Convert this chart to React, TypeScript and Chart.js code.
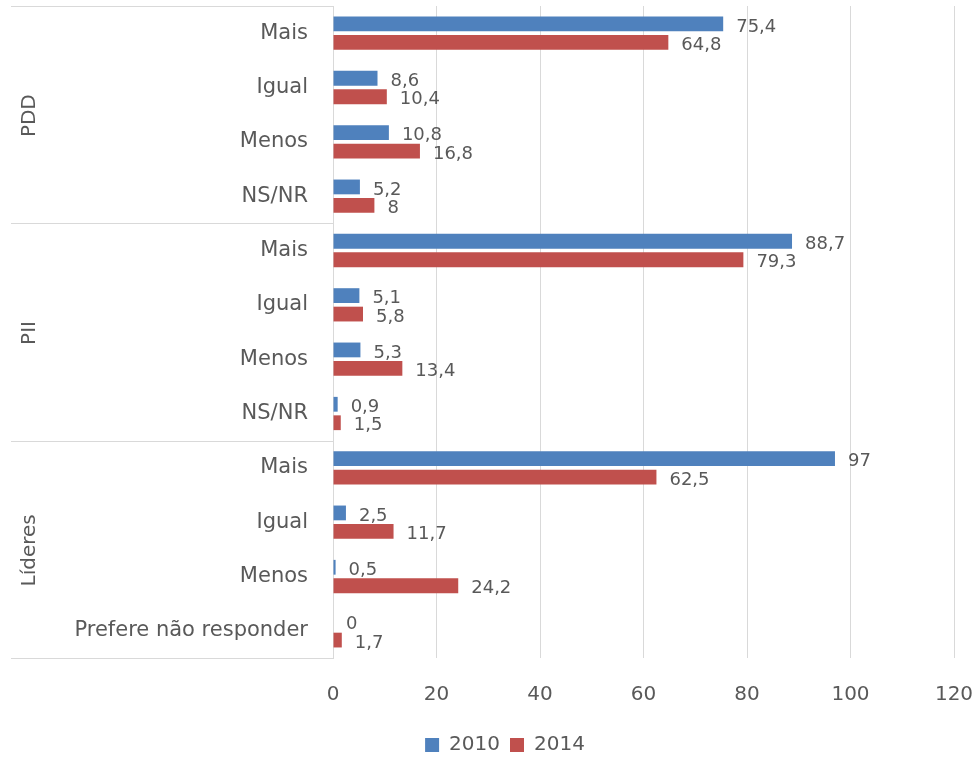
import React, { useEffect, useRef } from "react";
import { Chart, registerables } from "chart.js";

Chart.register(...registerables);

// ---- data ----
const categories = [
  "Mais", "Igual", "Menos", "NS/NR",
  "Mais", "Igual", "Menos", "NS/NR",
  "Mais", "Igual", "Menos", "Prefere não responder",
];
const groups = ["PDD", "PII", "Líderes"];
const groupSize = 4;
const seriesNames = ["2010", "2014"];
const values2010 = [75.4, 8.6, 10.8, 5.2, 88.7, 5.1, 5.3, 0.9, 97, 2.5, 0.5, 0];
const values2014 = [64.8, 10.4, 16.8, 8, 79.3, 5.8, 13.4, 1.5, 62.5, 11.7, 24.2, 1.7];
const xMin = 0;
const xMax = 120;
const xStep = 20;

const BLUE = "#4F81BD";
const RED = "#C0504D";
const TEXT = "#595959";
const GRID = "#D9D9D9";
const FONT = "'DejaVu Sans', sans-serif";

const fmt = (v: number) => String(v).replace(".", ",");

const zeroPad = (s: any) => {
  s.paddingTop = 0;
  s.paddingBottom = 0;
  s.paddingLeft = 0;
  s.paddingRight = 0;
};

const groupPlugin = {
  id: "groupPlugin",
  afterDraw(chart: any) {
    const ctx = chart.ctx;
    const y = chart.scales.y;
    const area = chart.chartArea;
    const half = (y.getPixelForValue(1) - y.getPixelForValue(0)) / 2;
    ctx.save();
    ctx.strokeStyle = GRID;
    ctx.lineWidth = 1;
    for (let g = 0; g <= groups.length; g++) {
      let py: number;
      if (g === 0) py = area.top;
      else if (g === groups.length) py = area.bottom;
      else py = y.getPixelForValue(g * groupSize) - half;
      py = Math.round(py) + 0.5;
      ctx.beginPath();
      ctx.moveTo(11, py);
      ctx.lineTo(area.left, py);
      ctx.stroke();
    }
    ctx.fillStyle = TEXT;
    ctx.font = `20px ${FONT}`;
    ctx.textAlign = "center";
    ctx.textBaseline = "middle";
    groups.forEach((name, g) => {
      const top = y.getPixelForValue(g * groupSize) - half;
      const bottom = y.getPixelForValue(g * groupSize + groupSize - 1) + half;
      ctx.save();
      ctx.translate(30, (top + bottom) / 2 + 1);
      ctx.rotate(-Math.PI / 2);
      ctx.fillText(name, 0, 0);
      ctx.restore();
    });
    ctx.restore();
  },
};

const labelPlugin = {
  id: "labelPlugin",
  afterDatasetsDraw(chart: any) {
    const ctx = chart.ctx;
    ctx.save();
    ctx.fillStyle = TEXT;
    ctx.font = `18px ${FONT}`;
    ctx.textAlign = "left";
    ctx.textBaseline = "middle";
    chart.data.datasets.forEach((ds: any, di: number) => {
      const meta = chart.getDatasetMeta(di);
      meta.data.forEach((bar: any, i: number) => {
        ctx.fillText(fmt(ds.data[i]), bar.x + 13, bar.y + 3);
      });
    });
    ctx.restore();
  },
};

export default function App() {
  const ref = useRef<HTMLCanvasElement | null>(null);

  useEffect(() => {
    document.body.style.margin = "0";
    document.body.style.background = "#ffffff";
    if (!ref.current) return;
    const chart = new Chart(ref.current, {
      type: "bar",
      data: {
        labels: categories,
        datasets: [
          {
            label: seriesNames[0],
            data: values2010,
            backgroundColor: BLUE,
            borderWidth: 0,
            categoryPercentage: 0.68,
            barPercentage: 0.8,
          },
          {
            label: seriesNames[1],
            data: values2014,
            backgroundColor: RED,
            borderWidth: 0,
            categoryPercentage: 0.68,
            barPercentage: 0.8,
          },
        ],
      },
      options: {
        indexAxis: "y",
        responsive: false,
        animation: false,
        layout: { padding: { top: 6, right: 23, left: 56, bottom: -5 } },
        scales: {
          x: {
            min: xMin,
            max: xMax,
            ticks: {
              stepSize: xStep,
              color: TEXT,
              font: { family: FONT, size: 20 },
              padding: 25,
            },
            grid: { color: GRID, drawTicks: false, lineWidth: 1 },
            border: { display: false },
            afterFit: (s: any) => {
              s.height = 67;
              zeroPad(s);
            },
          },
          y: {
            ticks: {
              color: TEXT,
              font: { family: FONT, size: 21 },
              padding: 25,
              autoSkip: false,
            },
            grid: { display: false, drawTicks: false },
            border: { display: true, color: GRID, width: 1 },
            afterFit: (s: any) => {
              s.width = 277;
              zeroPad(s);
            },
          },
        },
        plugins: {
          legend: {
            position: "bottom",
            labels: {
              color: TEXT,
              font: { family: FONT, size: 20 },
              boxWidth: 14,
              boxHeight: 14,
              padding: 10,
            },
          },
          tooltip: { enabled: false },
        },
      },
      plugins: [groupPlugin, labelPlugin],
    });
    return () => chart.destroy();
  }, []);

  return (
    <div style={{ width: 977, height: 760, background: "#fff", overflow: "hidden" }}>
      <canvas ref={ref} width={977} height={760} style={{ display: "block" }} />
    </div>
  );
}
